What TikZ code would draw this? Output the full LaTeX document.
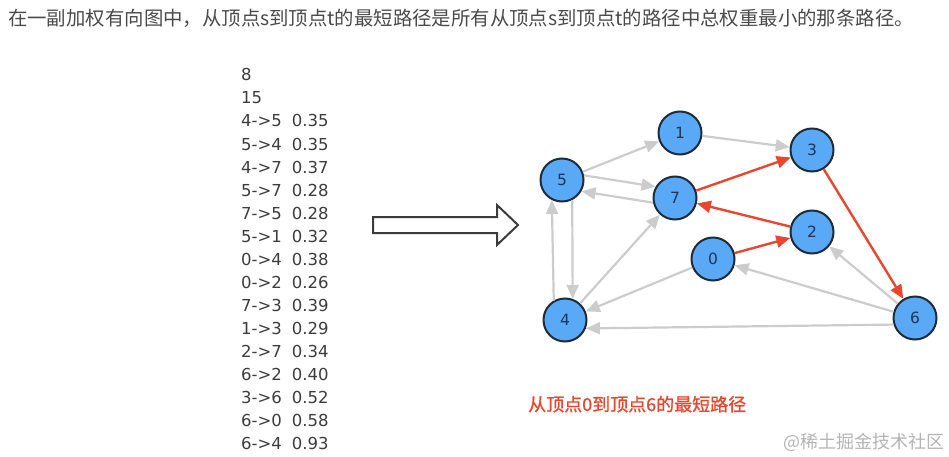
\documentclass[tikz,border=0pt]{standalone}
\usepackage{fontspec}
\usetikzlibrary{arrows.meta}
\setmainfont{DejaVu Sans}
\newfontfamily\cjk{Noto Sans CJK SC}
\newfontfamily\cjkbold[FakeBold=1]{Noto Sans CJK SC}
\definecolor{titlegray}{HTML}{4A4A4A}
\definecolor{listgray}{HTML}{3C3C3C}
\definecolor{edgegray}{HTML}{CCCCCC}
\definecolor{pathred}{HTML}{E8472F}
\definecolor{nodefill}{HTML}{5AA9F6}
\definecolor{nodeline}{HTML}{1E2B38}
\definecolor{nodetext}{HTML}{1D3557}
\definecolor{markgray}{HTML}{B4B4B4}
\begin{document}
\begin{tikzpicture}[x=1pt,y=-1pt,
  vtx/.style={circle, draw=nodeline, line width=2pt, fill=nodefill, minimum size=43pt, inner sep=0pt,
    font=\fontsize{15.5}{15.5}\selectfont, text=nodetext},
  gedge/.style={draw=edgegray, line width=2.2pt, -{Triangle[length=14pt,width=12pt]}},
  redge/.style={draw=pathred, line width=2.4pt, -{Triangle[length=14pt,width=12pt]}},
  listline/.style={anchor=base west, inner sep=0pt, text=listgray, font=\fontsize{16.5}{16.5}\selectfont}
]
\useasboundingbox (0,0) rectangle (949,457);

% title
\node[anchor=base west, inner sep=0pt, text=titlegray, font=\cjk\fontsize{19.4}{19.4}\selectfont] (title) at (8,26)
  {在一副加权有向图中，从顶点s到顶点t的最短路径是所有从顶点s到顶点t的路径中总权重最小的那条路径。};

% edge list
\foreach \t [count=\i from 0] in {8,15,4->5\hspace{10pt}0.35,5->4\hspace{10pt}0.35,4->7\hspace{10pt}0.37,
  5->7\hspace{10pt}0.28,7->5\hspace{10pt}0.28,5->1\hspace{10pt}0.32,0->4\hspace{10pt}0.38,0->2\hspace{10pt}0.26,
  7->3\hspace{10pt}0.39,1->3\hspace{10pt}0.29,2->7\hspace{10pt}0.34,6->2\hspace{10pt}0.40,3->6\hspace{10pt}0.52,
  6->0\hspace{10pt}0.58,6->4\hspace{10pt}0.93}
  \node[listline] (l\i) at (241,{81+23*\i}) {\t};

% hollow arrow
\draw[draw=listgray, line width=2pt, line join=miter]
  (373,217) -- (497,217) -- (497,205) -- (518,225) -- (497,245) -- (497,233) -- (373,233) -- cycle;

% vertices
\node[vtx] (v1) at (680,133) {1};
\node[vtx] (v3) at (812,150) {3};
\node[vtx] (v5) at (562,180) {5};
\node[vtx] (v7) at (675,198) {7};
\node[vtx] (v2) at (812,232) {2};
\node[vtx] (v0) at (713,259) {0};
\node[vtx] (v4) at (565,320) {4};
\node[vtx] (v6) at (915,318) {6};

% gray edges
\path[gedge] (v4.120) -- (v5.243);
\path[gedge] (v5.297) -- (v4.70);
\path[gedge] (v5.12) -- (v7.150);
\path[gedge] (v7.192) -- (v5.-30);
\path[gedge] (v5) -- (v1);
\path[gedge] (v1) -- (v3);
\path[gedge] (v4) -- (v7);
\path[gedge] (v0) -- (v4);
\path[gedge] (v6) -- (v2);
\path[gedge] (v6) -- (v0);
\path[gedge] (v6.197) -- (v4.-22);

% red path
\path[redge] (v0) -- (v2);
\path[redge] (v2) -- (v7);
\path[redge] (v7) -- (v3);
\path[redge] (v3) -- (v6);

% caption
\node[anchor=base west, inner sep=0pt, text=pathred, font=\cjkbold\fontsize{18}{18}\selectfont] (cap) at (528,411)
  {从顶点0到顶点6的最短路径};

% watermark
\node[anchor=base west, inner sep=0pt, text=markgray, font=\cjk\fontsize{18}{18}\selectfont] (mark) at (783,448)
  {@稀土掘金技术社区};
\end{tikzpicture}
\end{document}
